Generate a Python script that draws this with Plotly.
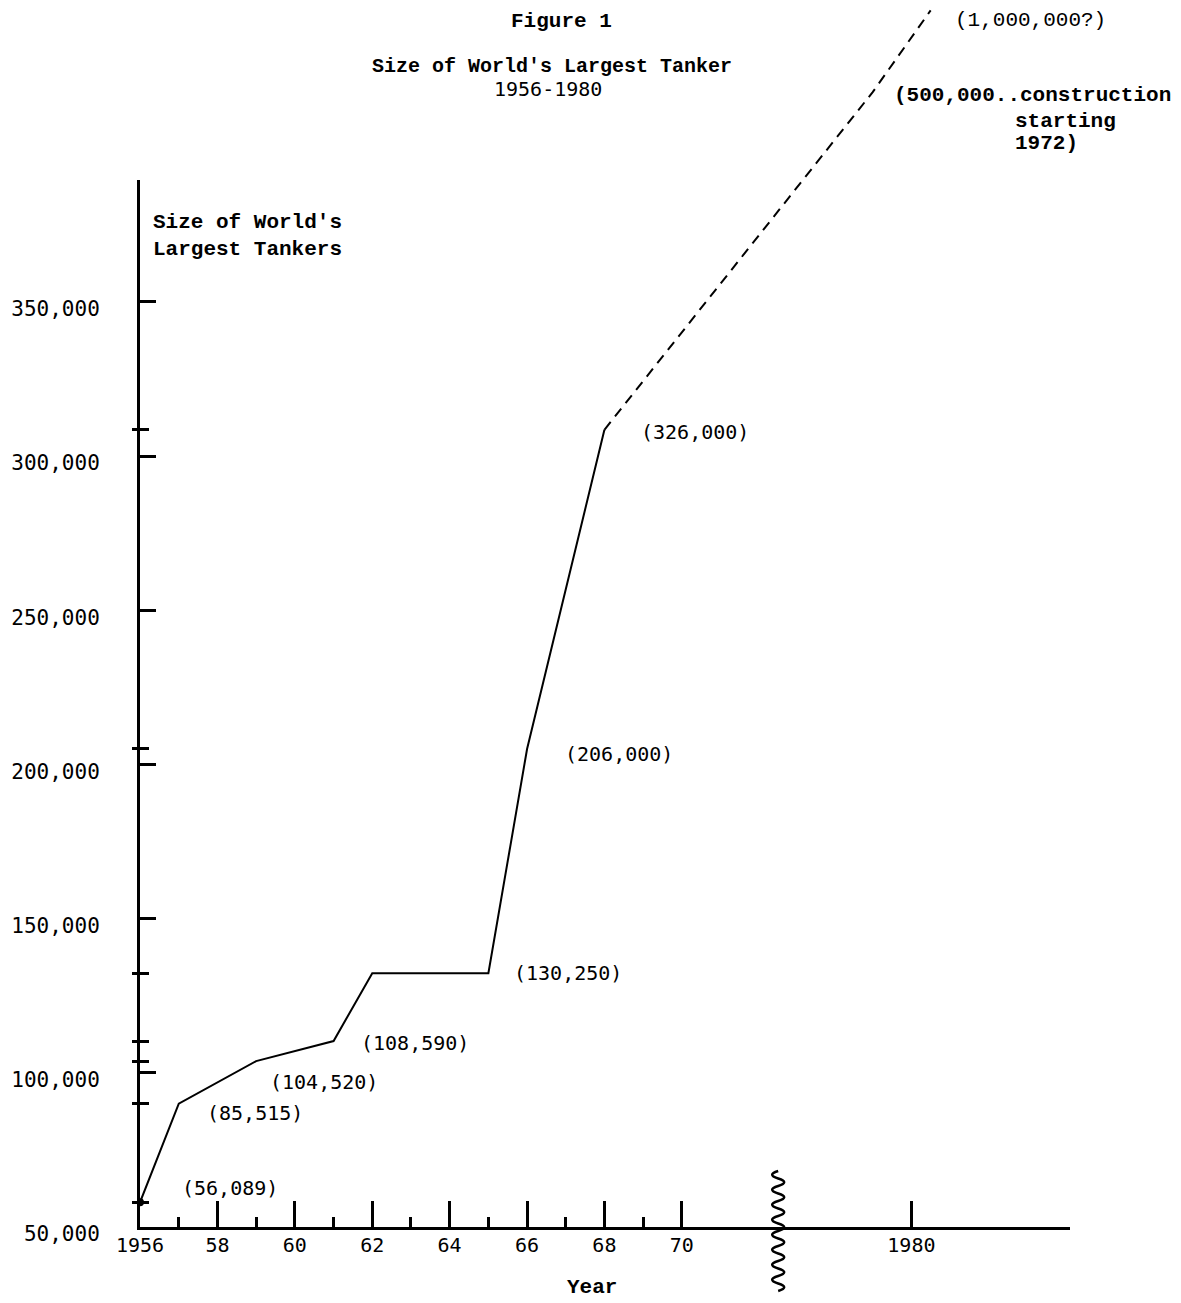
import plotly.graph_objects as go

# ---------------- data (values as drawn on the sketch) ----------------
years = [1956, 1957, 1959, 1961, 1962, 1965, 1966, 1968]
size_drawn = [58000, 90000, 103800, 110300, 132300, 132300, 205000, 308500]
point_labels = ["(56,089)", "(85,515)", "(104,520)", "(108,590)", None,
                "(130,250)", "(206,000)", "(326,000)"]

proj_dates = ["1968-01-01", "1979-01-01", "1980-07-01"]
proj_size_drawn = [308500, 418000, 444500]
proj_labels = [None, ["(500,000..construction", "starting", "1972)"], ["(1,000,000?)"]]

x_major_years = [1956, 1958, 1960, 1962, 1964, 1966, 1968, 1970, 1980]
x_major_text = ["1956", "58", "60", "62", "64", "66", "68", "70", "1980"]
x_minor_years = [1957, 1959, 1961, 1963, 1965, 1967, 1969]
y_tick_vals = [50000, 100000, 150000, 200000, 250000, 300000, 350000]
y_tick_text = ["50,000", "100,000", "150,000", "200,000", "250,000", "300,000", "350,000"]

# axis break (years omitted between these dates)
break_bounds = ["1972-06-28", "1976-07-23"]

# ---------------- styling / layout ----------------
OFF = 8  # page body margin
W, H = 1181 - OFF, 1303 - OFF
ML, MR, MT, MB = 132, 111, 0, 76
PW, PH = W - ML - MR, H - MT - MB
PX_PER_K = 3.084
Y2_TOP = 50000 + PH / PX_PER_K * 1000
AXIS_TOP = 180 - OFF
Y_DOM = (PH - AXIS_TOP) / PH
Y1_TOP = 50000 + (PH - AXIS_TOP) / PX_PER_K * 1000

TYPE_FONT = "Liberation Mono"
NUM_FONT = "DejaVu Sans Mono"


def d(y):
    return f"{y}-01-01"


def px_x(p):
    return (p - OFF - ML) / PW


def px_y(p):
    return (PH - (p - OFF)) / PH


fig = go.Figure()

# solid line
fig.add_trace(go.Scatter(x=[d(y) for y in years], y=size_drawn, mode="lines",
                         line=dict(color="black", width=2), xaxis="x", yaxis="y2",
                         showlegend=False, hoverinfo="skip"))
# first point marker
fig.add_trace(go.Scatter(x=[d(years[0])], y=[size_drawn[0]], mode="markers",
                         marker=dict(color="black", size=8), xaxis="x", yaxis="y2",
                         showlegend=False, hoverinfo="skip"))
# dashed projection
fig.add_trace(go.Scatter(x=proj_dates, y=proj_size_drawn, mode="lines",
                         line=dict(color="black", width=2, dash="10px,7px"),
                         xaxis="x", yaxis="y2", showlegend=False, hoverinfo="skip"))
# placeholders so the visible axes get subplots
fig.add_trace(go.Scatter(x=[d(1956)], y=[None], xaxis="x", yaxis="y", showlegend=False,
                         hoverinfo="skip", mode="lines"))
fig.add_trace(go.Scatter(x=[d(1956)], y=[None], xaxis="x", yaxis="y3", showlegend=False,
                         hoverinfo="skip", mode="lines"))

cross_vals = list(size_drawn)

fig.update_layout(
    width=W, height=H, autosize=False,
    margin=dict(l=ML, r=MR, t=MT, b=MB, pad=0),
    paper_bgcolor="white", plot_bgcolor="rgba(0,0,0,0)",
    font=dict(family=NUM_FONT, color="black", size=20),
    xaxis=dict(
        type="date", anchor="y", domain=[0, 1],
        range=["1956-01-01", "1984-02-06"],
        rangebreaks=[dict(bounds=break_bounds)],
        showgrid=False, zeroline=False,
        showline=True, linecolor="black", linewidth=3,
        tickmode="array", tickvals=[d(y) for y in x_major_years], ticktext=x_major_text,
        ticks="inside", ticklen=26, tickwidth=3, tickcolor="black",
        ticklabelstandoff=-2,
        tickfont=dict(family=NUM_FONT, size=20),
        minor=dict(tickmode="array", tickvals=[d(y) for y in x_minor_years],
                   ticks="inside", ticklen=10, tickwidth=3, tickcolor="black",
                   showgrid=False),
    ),
    yaxis=dict(
        anchor="x", domain=[0, Y_DOM], range=[50000, Y1_TOP],
        showgrid=False, zeroline=False,
        showline=True, linecolor="black", linewidth=3,
        tickmode="array", tickvals=y_tick_vals, ticktext=y_tick_text,
        ticks="inside", ticklen=16, tickwidth=3, tickcolor="black",
        ticklabelstandoff=33, ticklabelshift=7,
        tickfont=dict(family=NUM_FONT, size=21),
        minor=dict(tickmode="array", tickvals=cross_vals, ticks="inside",
                   ticklen=9, tickwidth=3, tickcolor="black", showgrid=False),
    ),
    yaxis3=dict(
        overlaying="y", anchor="x", side="left", range=[50000, Y1_TOP],
        showgrid=False, zeroline=False, showline=False,
        tickmode="array", tickvals=cross_vals, ticks="outside", ticklen=7,
        tickwidth=3, tickcolor="black", showticklabels=False,
    ),
    yaxis2=dict(
        anchor="x", domain=[0, 1], range=[50000, Y2_TOP], visible=False,
        showgrid=False, zeroline=False,
    ),
)

# point labels anchored to data
label_offsets = [(40, 14), (26, -9), (12, -21), (25, -2), None, (24, 0), (36, -5), (35, -2)]
for yr, v, txt, off in zip(years, size_drawn, point_labels, label_offsets):
    if txt is None:
        continue
    fig.add_annotation(x=d(yr), y=v, xref="x", yref="y2", text=txt, showarrow=False,
                       xanchor="left", yanchor="middle", xshift=off[0], yshift=off[1],
                       font=dict(family=NUM_FONT, size=20, color="black"))

proj_offsets = [None, [(19, -3), (140, -29), (140, -51)], [(22, -10)]]
proj_fonts = [None, dict(family=TYPE_FONT, size=21, weight="bold"),
              dict(family=TYPE_FONT, size=21)]
for dt, v, lines, offs, fnt in zip(proj_dates, proj_size_drawn, proj_labels, proj_offsets, proj_fonts):
    if lines is None:
        continue
    for line, off in zip(lines, offs):
        fig.add_annotation(x=dt, y=v, xref="x", yref="y2", text=line, showarrow=False,
                           xanchor="left", yanchor="middle", xshift=off[0], yshift=off[1],
                           font=dict(fnt, color="black"))

bold = dict(family=TYPE_FONT, size=21, color="black", weight="bold")
fig.add_annotation(x=px_x(561), y=px_y(22), xref="paper", yref="paper", text="Figure 1",
                   showarrow=False, xanchor="center", yanchor="middle", font=bold)
fig.add_annotation(x=px_x(552), y=px_y(66), xref="paper", yref="paper",
                   text="Size of World's Largest Tanker",
                   showarrow=False, xanchor="center", yanchor="middle",
                   font=dict(bold, size=20))
fig.add_annotation(x=px_x(548), y=px_y(89), xref="paper", yref="paper", text="1956-1980",
                   showarrow=False, xanchor="center", yanchor="middle",
                   font=dict(family=NUM_FONT, size=20, color="black"))
fig.add_annotation(x=px_x(151), y=px_y(223), xref="paper", yref="paper", text="Size of World's",
                   showarrow=False, xanchor="left", yanchor="middle", font=bold)
fig.add_annotation(x=px_x(151), y=px_y(250), xref="paper", yref="paper", text="Largest Tankers",
                   showarrow=False, xanchor="left", yanchor="middle", font=bold)
fig.add_annotation(x=px_x(592), y=px_y(1287), xref="paper", yref="paper", text="Year",
                   showarrow=False, xanchor="center", yanchor="middle", font=bold)

# axis-break squiggle
seg, amp, y_lo, y_hi = 7.5, 12, -64, 56
path = f"M 0,{y_lo}"
yy, s = y_lo, 1
while yy + seg <= y_hi + 0.1:
    path += f" Q {s * amp},{yy + seg / 2} 0,{yy + seg}"
    yy += seg
    s = -s
fig.add_shape(type="path", xref="x", yref="paper", xsizemode="pixel", ysizemode="pixel",
              xanchor=break_bounds[0], yanchor=0, path=path,
              line=dict(color="black", width=2.5), fillcolor="rgba(0,0,0,0)")

fig.write_html("out.html")
